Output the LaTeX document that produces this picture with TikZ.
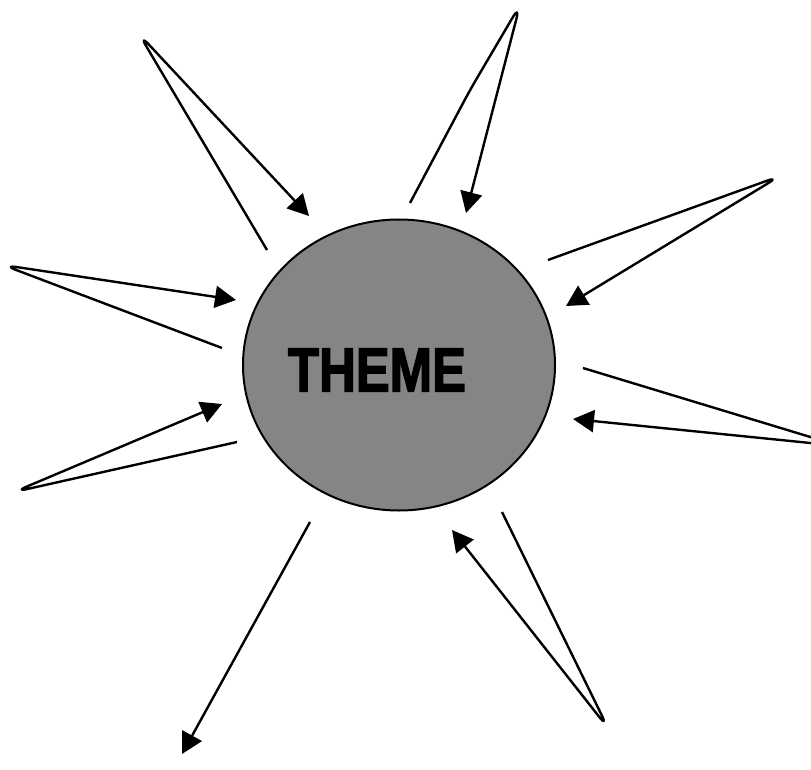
\documentclass[tikz,border=0pt]{standalone}
\usepackage{fontspec}
\setmainfont{Liberation Sans}
\newfontfamily\heavyfont[BoldFeatures={FakeBold=2.5}]{Liberation Sans}
\usetikzlibrary{arrows.meta,shapes.geometric}
\begin{document}
\begin{tikzpicture}[x=1pt,y=-1pt,
  petal/.style={line width=2.4pt, rounded corners=14pt, line join=round,
    -{Triangle[length=21pt,width=22pt]}},
  ray/.style={line width=2.4pt, -{Triangle[length=21pt,width=22pt]}}]
\useasboundingbox (0,0) rectangle (811,770);
\clip (0,0) rectangle (811,770);
\node[ellipse, draw, line width=2pt, fill=black!48, minimum width=312pt,
  minimum height=291pt, inner sep=0pt] (theme) at (399,365) {};
\node[font=\heavyfont\bfseries\fontsize{62}{62}\selectfont, xscale=0.82, inner sep=0pt]
  (label) at (377,370) {THEME};
% petal 1 (top left)
\coordinate (s1) at (267,250); \coordinate (t1) at (139,34); \coordinate (e1) at (309,216);
\draw[petal] (s1) -- (t1) -- (e1);
% petal 2 (top)
\coordinate (s2) at (410,203); \coordinate (m2) at (470,90); \coordinate (t2) at (520,5); \coordinate (e2) at (466,213);
\draw[petal] (s2) -- (m2) -- (t2) -- (e2);
% petal 3 (upper right)
\coordinate (s3) at (548,260); \coordinate (t3) at (780,176); \coordinate (e3) at (566,306);
\draw[petal] (s3) -- (t3) -- (e3);
% petal 4 (upper left)
\coordinate (s4) at (222,348); \coordinate (t4) at (3,265); \coordinate (e4) at (236,300);
\draw[petal] (s4) -- (t4) -- (e4);
% petal 5 (right, tip outside)
\coordinate (s5) at (583,368); \coordinate (t5) at (840,446); \coordinate (e5) at (573,419);
\draw[petal] (s5) -- (t5) -- (e5);
% petal 6 (lower left)
\coordinate (s6) at (237,442); \coordinate (t6) at (14,492); \coordinate (e6) at (222,404);
\draw[petal] (s6) -- (t6) -- (e6);
% petal 7 (lower right)
\coordinate (s7) at (502,512); \coordinate (t7) at (608,728); \coordinate (e7) at (452,530);
\draw[petal] (s7) -- (t7) -- (e7);
% ray 8 (lower left, outward)
\coordinate (s8) at (310,522); \coordinate (e8) at (182,754);
\draw[ray] (s8) -- (e8);
\end{tikzpicture}
\end{document}
